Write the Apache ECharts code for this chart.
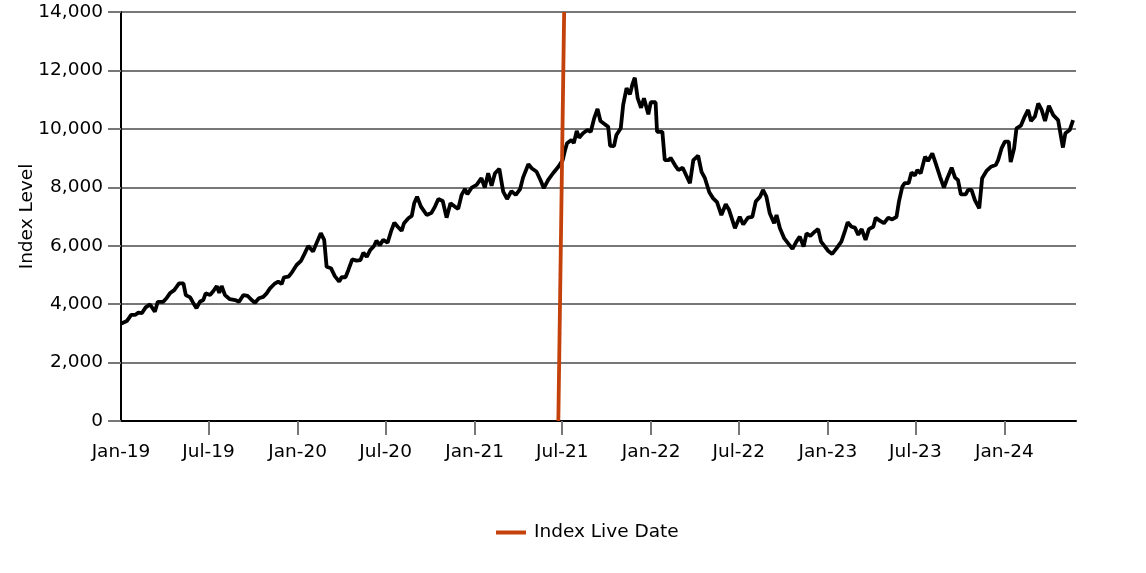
<!DOCTYPE html>
<html>
<head>
<meta charset="utf-8">
<script src="https://cdn.jsdelivr.net/npm/echarts@6/dist/echarts.min.js"></script>
<style>
  html, body { margin: 0; padding: 0; background: #fff; }
  #chart { width: 1146px; height: 573px; }
</style>
</head>
<body>
<div id="chart"></div>
<script>
// weekly-ish index readings
const dates = [
  '2019-01-02','2019-01-13','2019-01-22','2019-01-30','2019-02-06','2019-02-13','2019-02-21','2019-03-02',
  '2019-03-12','2019-03-18','2019-03-29','2019-04-05','2019-04-12','2019-04-21','2019-05-01','2019-05-10',
  '2019-05-15','2019-05-24','2019-05-30','2019-06-06','2019-06-13','2019-06-20','2019-06-25','2019-07-04',
  '2019-07-11','2019-07-18','2019-07-23','2019-07-28','2019-08-04','2019-08-14','2019-08-25','2019-09-02',
  '2019-09-11','2019-09-20','2019-09-28','2019-10-05','2019-10-13','2019-10-22','2019-10-29','2019-11-05',
  '2019-11-14','2019-11-22','2019-11-29','2019-12-04','2019-12-13','2019-12-20','2019-12-30','2020-01-08',
  '2020-01-15','2020-01-23','2020-02-02','2020-02-09','2020-02-18','2020-02-25','2020-03-01','2020-03-10',
  '2020-03-18','2020-03-27','2020-04-01','2020-04-09','2020-04-15','2020-04-23','2020-05-02','2020-05-10',
  '2020-05-16','2020-05-23','2020-05-30','2020-06-07','2020-06-12','2020-06-19','2020-06-26','2020-07-05',
  '2020-07-12','2020-07-19','2020-07-26','2020-08-03','2020-08-08','2020-08-17','2020-08-24','2020-08-29',
  '2020-09-04','2020-09-12','2020-09-24','2020-10-04','2020-10-11','2020-10-18','2020-10-27','2020-11-04',
  '2020-11-12','2020-11-21','2020-11-28','2020-12-05','2020-12-12','2020-12-17','2020-12-26','2021-01-05',
  '2021-01-15','2021-01-22','2021-01-29','2021-02-05','2021-02-12','2021-02-21','2021-03-01','2021-03-09',
  '2021-03-18','2021-03-27','2021-04-05','2021-04-11','2021-04-22','2021-04-29','2021-05-09','2021-05-17',
  '2021-05-24','2021-06-02','2021-06-12','2021-06-23','2021-07-02','2021-07-07','2021-07-11','2021-07-20',
  '2021-07-25','2021-07-31','2021-08-05','2021-08-13','2021-08-22','2021-08-29','2021-09-05','2021-09-12',
  '2021-09-18','2021-09-27','2021-10-04','2021-10-08','2021-10-16','2021-10-21','2021-10-30','2021-11-04',
  '2021-11-11','2021-11-18','2021-11-23','2021-11-28','2021-12-04','2021-12-11','2021-12-17','2021-12-26',
  '2021-12-31','2022-01-10','2022-01-13','2022-01-24','2022-01-29','2022-02-07','2022-02-10','2022-02-19',
  '2022-02-26','2022-03-07','2022-03-14','2022-03-22','2022-03-29','2022-04-08','2022-04-15','2022-04-22',
  '2022-05-01','2022-05-09','2022-05-17','2022-05-26','2022-06-04','2022-06-11','2022-06-23','2022-07-03',
  '2022-07-10','2022-07-14','2022-07-20','2022-07-29','2022-08-05','2022-08-14','2022-08-20','2022-08-27',
  '2022-09-03','2022-09-12','2022-09-17','2022-09-24','2022-10-03','2022-10-11','2022-10-20','2022-10-28',
  '2022-11-04','2022-11-12','2022-11-18','2022-11-26','2022-12-05','2022-12-12','2022-12-18','2022-12-26',
  '2023-01-02','2023-01-10','2023-01-19','2023-01-29','2023-02-05','2023-02-11','2023-02-19','2023-02-26',
  '2023-03-05','2023-03-12','2023-03-20','2023-03-27','2023-04-05','2023-04-10','2023-04-19','2023-04-27',
  '2023-05-06','2023-05-14','2023-05-23','2023-05-28','2023-06-04','2023-06-09','2023-06-17','2023-06-23',
  '2023-06-30','2023-07-05','2023-07-12','2023-07-21','2023-07-27','2023-08-05','2023-08-12','2023-08-21',
  '2023-08-29','2023-09-05','2023-09-14','2023-09-21','2023-09-27','2023-10-03','2023-10-13','2023-10-18',
  '2023-10-25','2023-11-01','2023-11-10','2023-11-16','2023-11-25','2023-12-04','2023-12-14','2023-12-19',
  '2023-12-26','2024-01-02','2024-01-10','2024-01-14','2024-01-21','2024-01-26','2024-02-04','2024-02-12',
  '2024-02-19','2024-02-25','2024-03-04','2024-03-11','2024-03-18','2024-03-25','2024-04-02','2024-04-11',
  '2024-04-21','2024-05-01','2024-05-06','2024-05-15','2024-05-22'
];
const indexLevel = [
  3340,3420,3630,3630,3710,3690,3890,3990,
  3740,4080,4080,4200,4370,4480,4710,4710,
  4310,4230,4050,3860,4080,4140,4370,4310,
  4450,4620,4390,4620,4310,4170,4140,4080,
  4310,4280,4140,4050,4200,4250,4370,4540,
  4690,4770,4690,4920,4940,5080,5340,5480,
  5710,5990,5800,6080,6430,6200,5280,5230,
  4960,4770,4920,4920,5170,5530,5490,5510,
  5760,5620,5850,5990,6170,6020,6200,6100,
  6480,6790,6650,6510,6770,6940,7020,7450,
  7680,7340,7050,7130,7340,7600,7530,6960,
  7450,7340,7260,7740,7940,7760,7990,8080,
  8310,7990,8480,8050,8480,8630,7850,7600,
  7870,7740,7940,8330,8790,8650,8530,8250,
  7970,8250,8480,8700,8930,9280,9510,9620,
  9510,9930,9700,9850,9960,9900,10360,10680,
  10270,10160,10070,9420,9410,9790,10020,10820,
  11390,11180,11520,11750,11050,10720,11050,10500,
  10910,10910,9900,9900,8930,8930,9010,8760,
  8590,8670,8420,8140,8930,9080,8530,8310,
  7830,7620,7490,7050,7420,7220,6600,6990,
  6730,6820,6960,6990,7510,7680,7910,7680,
  7110,6770,7050,6600,6250,6080,5890,6140,
  6310,5970,6420,6340,6480,6570,6140,5970,
  5820,5720,5910,6140,6480,6800,6650,6620,
  6370,6570,6200,6570,6650,6960,6850,6770,
  6960,6900,6990,7510,8020,8140,8140,8510,
  8400,8590,8480,9050,8900,9160,8820,8360,
  7990,8310,8670,8330,8250,7760,7760,7910,
  7910,7560,7280,8310,8560,8700,8760,8930,
  9330,9560,9560,8860,9330,10020,10110,10420,
  10650,10270,10420,10870,10650,10270,10790,10470,
  10300,9360,9850,9960,10300
];

// launch marker, drawn as a two-point line
const liveDates = ['2021-06-23', '2021-07-05'];
const liveLevels = [0, 14000];

const xStart = '2019-01-01';
const xEnd = '2024-05-28';
const labelDates = [
  '2019-01-01', '2019-07-01', '2020-01-01', '2020-07-01', '2021-01-01', '2021-07-01',
  '2022-01-01', '2022-07-01', '2023-01-01', '2023-07-01', '2024-01-01'
];
const monthNames = ['Jan','Feb','Mar','Apr','May','Jun','Jul','Aug','Sep','Oct','Nov','Dec'];

function toTime(s) {
  const [y, m, d] = s.split('-').map(Number);
  return new Date(y, m - 1, d).getTime();
}
function fmtDate(v) {
  const d = new Date(v);
  return monthNames[d.getMonth()] + '-' + String(d.getFullYear()).slice(2);
}

const labelValues = labelDates.map(toTime);
const tickValues = labelValues.slice(1); // no tick drawn at the corner

const chart = echarts.init(document.getElementById('chart'), null, { renderer: 'canvas' });
const font = 'DejaVu Sans';
const fs = 18.5;

chart.setOption({
  animation: false,
  textStyle: { fontFamily: font },
  grid: { left: 121, right: 70, top: 12, bottom: 152, containLabel: false },
  legend: {
    data: [{ name: 'Index Live Date', icon: 'rect' }],
    left: 491, top: 518,
    itemWidth: 30, itemHeight: 4, itemGap: 8,
    textStyle: { fontFamily: font, fontSize: fs, color: '#000', padding: [0, 0, 0, 3] }
  },
  xAxis: {
    type: 'value',
    min: toTime(xStart), max: toTime(xEnd),
    axisLine: { lineStyle: { color: '#000', width: 2 } },
    axisTick: { show: true, customValues: tickValues, length: 14, lineStyle: { color: '#777', width: 2 } },
    axisLabel: {
      customValues: labelValues, formatter: fmtDate,
      fontFamily: font, fontSize: fs, color: '#000', margin: 22
    },
    splitLine: { show: false }
  },
  yAxis: {
    type: 'value',
    min: 0, max: 14000, interval: 2000,
    name: 'Index Level', nameLocation: 'middle', nameRotate: 90, nameGap: 84,
    nameMoveOverlap: false,
    nameTextStyle: { fontFamily: font, fontSize: fs, color: '#000' },
    axisLine: { show: true, lineStyle: { color: '#000', width: 2 } },
    axisTick: { show: true, length: 13, lineStyle: { color: '#777', width: 2 } },
    axisLabel: {
      fontFamily: font, fontSize: fs, color: '#000', margin: 18,
      formatter: v => v.toLocaleString('en-US')
    },
    splitLine: { show: true, lineStyle: { color: '#777', width: 2 } }
  },
  series: [
    {
      name: 'Index',
      type: 'line',
      data: dates.map((d, i) => [toTime(d), indexLevel[i]]),
      showSymbol: false,
      lineStyle: { color: '#000', width: 3.8 },
      itemStyle: { color: '#000' },
      z: 3
    },
    {
      name: 'Index Live Date',
      type: 'line',
      data: liveDates.map((d, i) => [toTime(d), liveLevels[i]]),
      showSymbol: false,
      lineStyle: { color: '#C4410B', width: 3.8 },
      itemStyle: { color: '#C4410B' },
      z: 4
    }
  ]
});
</script>
</body>
</html>
